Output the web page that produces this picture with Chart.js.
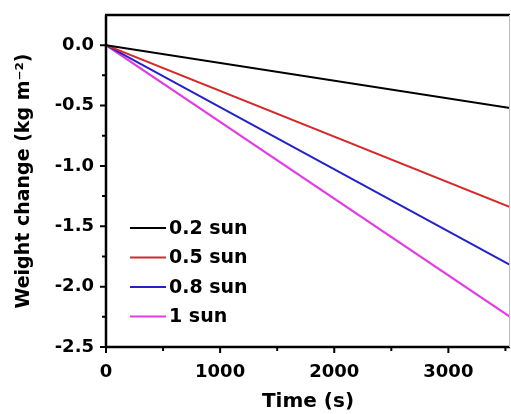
<!DOCTYPE html>
<html>
<head>
<meta charset="utf-8">
<script src="https://cdn.jsdelivr.net/npm/chart.js@4"></script>
<style>
  html, body { margin: 0; padding: 0; background: #fff; }
  #wrap { width: 511px; height: 414px; }
</style>
</head>
<body>
<div id="wrap"><canvas id="wc" width="511" height="414"></canvas></div>
<script>
// ===== DATA =====
const seriesNames = ["0.2 sun", "0.5 sun", "0.8 sun", "1 sun"];
const seriesColors = ["#000000", "#d42a2a", "#2222c8", "#e23ce2"];
const timeValues = [0, 3540];
const weight02 = [0, -0.52];
const weight05 = [0, -1.34];
const weight08 = [0, -1.82];
const weight10 = [0, -2.25];
const xTicks = [0, 1000, 2000, 3000];
const yTicks = [-2.5, -2.0, -1.5, -1.0, -0.5, 0.0];
const xMinor = [500, 1500, 2500, 3500];
const yMinor = [-2.25, -1.75, -1.25, -0.75, -0.25];

const allSeries = [weight02, weight05, weight08, weight10];
const FONT = "'DejaVu Sans', sans-serif";

const datasets = allSeries.map((vals, i) => ({
  label: seriesNames[i],
  data: vals.map((v, j) => ({ x: timeValues[j], y: v })),
  borderColor: seriesColors[i],
  backgroundColor: seriesColors[i],
  borderWidth: 2,
  pointRadius: 0,
  tension: 0
}));

// frame, ticks and inside legend
const framePlugin = {
  id: "frame",
  afterDraw(chart) {
    const c = chart.ctx;
    const a = chart.chartArea;
    const xs = chart.scales.x, ys = chart.scales.y;
    c.save();
    c.strokeStyle = "#000";
    c.lineWidth = 2.5;
    c.beginPath();
    c.moveTo(a.left, a.top); c.lineTo(a.left, a.bottom);
    c.moveTo(a.left - 1, a.bottom); c.lineTo(a.right, a.bottom);
    c.moveTo(a.left - 1, a.top); c.lineTo(a.right, a.top);
    c.stroke();
    c.lineWidth = 1;
    c.strokeStyle = "#bbb";
    c.beginPath();
    c.moveTo(a.right - 0.5, a.top); c.lineTo(a.right - 0.5, a.bottom);
    c.stroke();

    c.strokeStyle = "#000";
    c.lineWidth = 2;
    c.beginPath();
    xTicks.forEach(v => { const p = xs.getPixelForValue(v); c.moveTo(p, a.bottom); c.lineTo(p, a.bottom + 6); });
    xMinor.forEach(v => { const p = xs.getPixelForValue(v); c.moveTo(p, a.bottom); c.lineTo(p, a.bottom + 4); });
    yTicks.forEach(v => { const p = ys.getPixelForValue(v); c.moveTo(a.left, p); c.lineTo(a.left - 6, p); });
    yMinor.forEach(v => { const p = ys.getPixelForValue(v); c.moveTo(a.left, p); c.lineTo(a.left - 4, p); });
    c.stroke();

    // legend
    const lx = 130, lw = 36, ly0 = 228, dy = 29.5;
    c.font = "bold 19px " + FONT;
    c.textBaseline = "middle";
    c.textAlign = "left";
    chart.data.datasets.forEach((ds, i) => {
      const y = ly0 + i * dy;
      c.strokeStyle = ds.borderColor;
      c.lineWidth = 2;
      c.beginPath(); c.moveTo(lx, y); c.lineTo(lx + lw, y); c.stroke();
      c.fillStyle = "#000";
      c.fillText(ds.label, lx + lw + 3, y + 1);
    });
    c.restore();
  }
};

new Chart(document.getElementById("wc"), {
  type: "line",
  data: { datasets: datasets },
  options: {
    responsive: false,
    animation: false,
    layout: { padding: { top: 15, right: 1, left: 0, bottom: 0 } },
    plugins: { legend: { display: false }, tooltip: { enabled: false } },
    scales: {
      x: {
        type: "linear",
        min: 0,
        max: 3540,
        afterFit: s => { s.height = 67; s.paddingLeft = 0; s.paddingRight = 0; },
        afterBuildTicks: s => { s.ticks = xTicks.map(v => ({ value: v })); },
        grid: { display: false, drawTicks: false },
        border: { display: false },
        ticks: {
          padding: 15,
          color: "#000",
          font: { family: FONT, size: 18, weight: "bold" },
          maxRotation: 0,
          callback: v => String(v)
        },
        title: {
          display: true,
          text: "Time (s)",
          color: "#000",
          font: { family: FONT, size: 20, weight: "bold" },
          padding: { top: 0, bottom: 0 }
        }
      },
      y: {
        type: "linear",
        min: -2.5,
        max: 0.25,
        afterFit: s => { s.width = 106; s.paddingTop = 0; s.paddingBottom = 0; },
        afterBuildTicks: s => { s.ticks = yTicks.map(v => ({ value: v })); },
        grid: { display: false, drawTicks: false },
        border: { display: false },
        ticks: {
          padding: 12,
          color: "#000",
          font: { family: FONT, size: 18, weight: "bold" },
          callback: v => Number(v).toFixed(1)
        },
        title: {
          display: true,
          text: "Weight change (kg m\u207B\u00B2)",
          color: "#000",
          font: { family: FONT, size: 19, weight: "bold" },
          padding: { top: 13, bottom: 0 }
        }
      }
    }
  },
  plugins: [framePlugin]
});
</script>
</body>
</html>
